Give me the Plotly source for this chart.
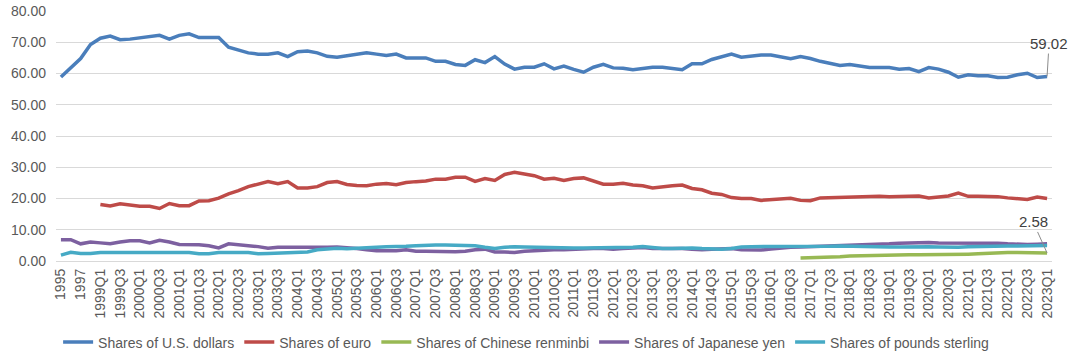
import plotly.graph_objects as go

# Categories: annual 1995-1998, then quarterly 1999Q1..2023Q1
years_annual = ["1995", "1996", "1997", "1998"]
quarters = [f"{y}Q{q}" for y in range(1999, 2024) for q in range(1, 5)]
quarters = quarters[:quarters.index("2023Q1") + 1]
categories = years_annual + quarters

usd = [58.9, 61.9, 64.8, 69.3,
       71.3, 72.0, 70.8, 71.0, 71.4, 71.9, 72.2, 71.0, 72.2, 72.7,
       71.5, 71.5, 71.5, 68.4, 67.6, 66.6, 66.2, 66.2, 66.6, 65.4,
       67.0, 67.2, 66.6, 65.5, 65.2, 65.7, 66.1, 66.6, 66.2, 65.8,
       66.2, 65.0, 65.0, 65.0, 63.9, 63.9, 62.9, 62.6, 64.4, 63.5,
       65.4, 63.0, 61.4, 62.0, 62.0, 63.1, 61.5, 62.4, 61.3, 60.4,
       62.0, 62.9, 61.8, 61.7, 61.2, 61.5, 62.0, 62.0, 61.5, 61.2,
       63.1, 63.1, 64.5, 65.3,
       66.2, 65.2, 65.5, 65.9, 65.9, 65.4, 64.7, 65.4, 64.8, 63.9,
       63.3, 62.6, 62.9, 62.4, 61.9, 61.9, 61.9, 61.4, 61.6, 60.6,
       61.9, 61.4, 60.4, 58.8, 59.6, 59.3, 59.3, 58.7, 58.8, 59.6,
       60.1, 58.7, 59.02]

eur = [None, None, None, None,
       18.1, 17.6, 18.3, 17.9, 17.5, 17.5, 16.8, 18.4, 17.7, 17.7,
       19.2, 19.3, 20.1, 21.5, 22.5, 23.8, 24.7, 25.4, 24.7, 25.4,
       23.4, 23.4, 23.8, 25.1, 25.4, 24.5, 24.2, 24.1, 24.6, 24.8,
       24.4, 25.1, 25.4, 25.6, 26.2, 26.2, 26.8, 26.8, 25.5, 26.4,
       25.8, 27.7, 28.4, 27.9, 27.3, 26.2, 26.5, 25.8, 26.4, 26.6,
       25.6, 24.6, 24.6, 24.9, 24.3, 24.1, 23.4, 23.8, 24.1, 24.3,
       23.2, 22.8, 21.7, 21.3,
       20.3, 20.0, 20.0, 19.4, 19.6, 19.7, 20.1, 19.4, 19.3, 20.2,
       20.3, 20.5, 20.5, 20.6, 20.7, 20.7, 20.6, 20.6, 20.6, 20.8,
       20.2, 20.5, 20.8, 21.7, 20.7, 20.7, 20.7, 20.6, 20.2, 20.0,
       19.7, 20.5, 20.0]

cny = [None] * 75 + [
       1.0, 1.05, 1.2, 1.3, 1.4, 1.6, 1.7, 1.8, 1.9, 2.0,
       2.0, 2.0, 2.0, 2.0, 2.0, 2.0, 2.1, 2.2, 2.3, 2.5,
       2.6, 2.7, 2.7, 2.7, 2.5, 2.58]

jpy = [6.8, 6.8, 5.5, 6.1,
       5.8, 5.5, 6.1, 6.5, 6.5, 5.8, 6.6, 6.1, 5.3, 5.3,
       5.2, 4.9, 4.2, 5.5, 5.2, 5.0, 4.6, 4.1, 4.4, 4.4,
       4.4, 4.4, 4.2, 4.4, 4.5, 4.3, 4.0, 3.6, 3.3, 3.3,
       3.3, 3.6, 3.1, 3.1, 3.0, 3.0, 3.0, 3.1, 3.6, 3.8,
       2.9, 2.9, 2.7, 3.1, 3.3, 3.3, 3.6, 3.6, 3.8, 3.8,
       4.0, 4.0, 3.8, 4.0, 4.2, 4.3, 4.0, 4.0, 4.2, 4.0,
       3.8, 3.6, 3.8, 3.8,
       4.0, 3.6, 3.5, 3.5, 3.8, 4.2, 4.4, 4.5, 4.6, 4.6,
       4.9, 5.0, 5.1, 5.1, 5.3, 5.4, 5.5, 5.7, 5.8, 5.9,
       5.9, 5.8, 5.8, 5.7, 5.8, 5.8, 5.8, 5.7, 5.5, 5.3,
       5.3, 5.4, 5.5]

gbp = [1.9, 2.8, 2.4, 2.4,
       2.7, 2.7, 2.7, 2.7, 2.7, 2.7, 2.7, 2.7, 2.7, 2.7,
       2.3, 2.3, 2.7, 2.8, 2.7, 2.7, 2.3, 2.4, 2.5, 2.7,
       2.7, 2.9, 3.6, 3.9, 4.1, 3.9, 4.0, 4.2, 4.4, 4.6,
       4.6, 4.7, 4.9, 5.1, 5.1, 5.1, 5.1, 5.1, 4.9, 4.4,
       4.0, 4.4, 4.6, 4.5, 4.4, 4.4, 4.3, 4.3, 4.2, 4.2,
       4.2, 4.3, 4.2, 4.2, 4.4, 4.6, 4.2, 4.0, 4.0, 4.1,
       4.2, 4.0, 3.8, 3.8,
       4.0, 4.5, 4.6, 4.6, 4.5, 4.5, 4.5, 4.5, 4.5, 4.6,
       4.7, 4.8, 4.7, 4.6, 4.6, 4.6, 4.5, 4.5, 4.6, 4.6,
       4.6, 4.5, 4.4, 4.4, 4.6, 4.7, 4.7, 4.7, 4.8, 4.8,
       4.8, 4.9, 5.0]

series = [
    ("Shares of U.S. dollars", usd, "#4a7ebb"),
    ("Shares of euro", eur, "#be4b48"),
    ("Shares of Chinese renminbi", cny, "#98b954"),
    ("Shares of Japanese yen", jpy, "#7d60a0"),
    ("Shares of pounds sterling", gbp, "#46aac5"),
]

fig = go.Figure()
for name, vals, color in series:
    fig.add_trace(go.Scatter(x=categories, y=vals, name=name, mode="lines",
                             line=dict(color=color, width=3.5),
                             connectgaps=False))

font_fam = "Liberation Sans, Arial, sans-serif"
fig.update_layout(
    width=1071, height=358,
    margin=dict(l=56, r=19, t=11, b=97, autoexpand=False),
    paper_bgcolor="white", plot_bgcolor="white",
    font=dict(family=font_fam, size=14, color="#595959"),
    showlegend=True,
    legend=dict(orientation="h", x=0.472, xanchor="center", y=-0.262, yanchor="top",
                font=dict(size=14, color="#595959"), itemwidth=30, tracegroupgap=0),
    xaxis=dict(type="category", categoryorder="array", categoryarray=categories,
               tickmode="array", tickvals=categories[::2], ticktext=categories[::2],
               tickangle=-90, tickfont=dict(size=14, color="#595959"),
               ticklabelstandoff=4,
               showgrid=False, showline=False, zeroline=False, ticks="",
               range=[-0.5, len(categories) - 0.5]),
    yaxis=dict(range=[0, 80], dtick=10, tickformat=".2f",
               showgrid=True, gridcolor="#d9d9d9", gridwidth=1,
               zeroline=True, zerolinecolor="#d9d9d9", zerolinewidth=1,
               ticklabelstandoff=9,
               showline=False, ticks="", tickfont=dict(size=14, color="#595959")),
)

fig.add_annotation(x=categories[-1], y=usd[-1], text="59.02", showarrow=True,
                   arrowhead=0, arrowwidth=1, arrowcolor="#8c8c8c",
                   ax=2, ay=-33, font=dict(size=15, color="#404040"))
fig.add_annotation(x=categories[-1], y=cny[-1], text="2.58", showarrow=True,
                   arrowhead=0, arrowwidth=1, arrowcolor="#8c8c8c",
                   ax=-14, ay=-31, font=dict(size=15, color="#404040"))

fig.write_html("out.html", config={"displayModeBar": False},
               post_script="document.body.style.margin='0';document.body.style.padding='0';")
